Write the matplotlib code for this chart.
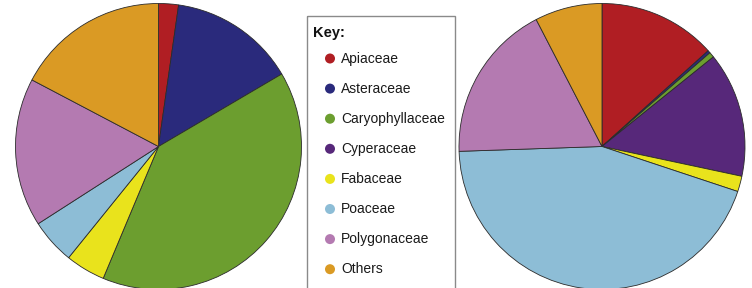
import numpy as np
import matplotlib
matplotlib.use("Agg")
from matplotlib import pyplot as plt
from matplotlib.patches import Rectangle

# families (legend order)
families = ["Apiaceae", "Asteraceae", "Caryophyllaceae", "Cyperaceae",
            "Fabaceae", "Poaceae", "Polygonaceae", "Others"]
colors = ["#B01E23", "#2A2A7C", "#6C9E2F", "#57287A",
          "#E9E31C", "#8DBDD6", "#B47AB1", "#DA9A24"]

# percentages
left_vals = [2.25, 14.3, 39.8, 0.0, 4.5, 5.1, 16.8, 17.3]
right_vals = [13.3, 0.3, 0.6, 14.1, 1.75, 44.3, 17.9, 7.6]

W, H = 752, 288
fig = plt.figure(figsize=(W/100, H/100), dpi=100)

def pie_axes(cx, cy, r):
    ax = fig.add_axes([(cx - r)/W, (H - cy - r)/H, 2*r/W, 2*r/H])
    ax.axis("off")
    return ax

for cx, vals in [(158.5, left_vals), (602, right_vals)]:
    ax = pie_axes(cx, 146.5, 143)
    keep = [i for i in range(len(vals)) if vals[i] > 0]
    ax.pie([vals[i] for i in keep], colors=[colors[i] for i in keep],
           startangle=90, counterclock=False, radius=1,
           wedgeprops=dict(edgecolor="#2b2b2b", linewidth=0.6))
    # pie() resets the limits, so set them afterwards
    ax.set_xlim(-1, 1)
    ax.set_ylim(-1, 1)
    ax.set_aspect("equal")

# legend box
lax = fig.add_axes([0, 0, 1, 1])
lax.set_xlim(0, W)
lax.set_ylim(H, 0)
lax.axis("off")
lax.add_patch(Rectangle((306.5, 15.5), 148, 290, fill=False,
                        edgecolor="#8a8a8a", linewidth=1.0))
lax.text(313, 33, "Key:", fontsize=10.5, fontweight="bold",
         family="Liberation Sans", va="center", ha="left", color="#111111")
for i, name in enumerate(families):
    y = 58.5 + i*30.1
    lax.scatter([330], [y], s=52, color=colors[i], edgecolors="none")
    lax.text(341, y, name, fontsize=10, family="Liberation Sans",
             va="center", ha="left", color="#1a1a1a")

fig.savefig("out.png", dpi=100)
